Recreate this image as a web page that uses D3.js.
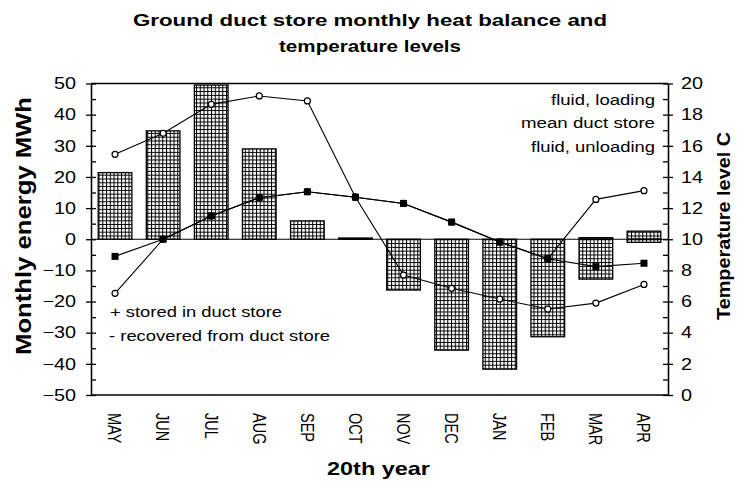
<!DOCTYPE html>
<html>
<head>
  <meta charset="utf-8">
  <script src="https://d3js.org/d3.v7.min.js"></script>
  <title>Ground duct store monthly heat balance</title>
  <style>
    body { margin: 0; background: #fff; }
    svg text { font-family: Arial, "Liberation Sans", sans-serif; fill: #000; }
    .axis path, .axis line { stroke: #000; stroke-width: 1.3px; fill: none; }
    .axis text { font-size: 16.5px; }
    .bar { fill: url(#grid); stroke: #000; stroke-width: 1.3px; }
    .series { fill: none; stroke: #000; stroke-width: 1.1px; }
  </style>
</head>
<body>
<div id="chart"></div>
<script>
// data
var months = ["MAY", "JUN", "JUL", "AUG", "SEP", "OCT", "NOV", "DEC", "JAN", "FEB", "MAR", "APR"];
var stored = [21.4, 34.8, 49.5, 29.0, 5.9, 0.4, 0, 0, 0, 0, 0.5, 2.6];          // MWh, + into store
var recovered = [0, 0, 0, 0, 0, 0, -16.3, -35.6, -41.7, -31.3, -12.8, -1.0];    // MWh, - out of store
var fluidLoading = [15.45, 16.8, 18.66, 19.2, 18.88, 12.7, 12.3, 11.1, 9.82, 8.75, 12.56, 13.12];
var meanStore = [8.9, 10.0, 11.5, 12.67, 13.05, 12.7, 12.3, 11.1, 9.82, 8.75, 8.24, 8.46];
var fluidUnloading = [6.53, 10.0, 11.5, 12.67, 13.05, 12.7, 7.7, 6.85, 6.16, 5.52, 5.9, 7.1];
var energyTicks = d3.range(-50, 51, 10);
var tempTicks = d3.range(0, 21, 2);

var W = 738, H = 481;
var margin = {top: 83.5, right: 70, bottom: 86, left: 91},
    width = W - margin.left - margin.right,
    height = H - margin.top - margin.bottom;
var sx = 1.2; // the picture is a bit wide: text is stretched sideways

var svg = d3.select("#chart").append("svg")
    .attr("width", W)
    .attr("height", H);

var pat = svg.append("defs").append("pattern")
    .attr("id", "grid")
    .attr("patternUnits", "userSpaceOnUse")
    .attr("width", 3.75)
    .attr("height", 3.8);
pat.append("rect").attr("width", 3.75).attr("height", 3.8).attr("fill", "#fff");
pat.append("path").attr("d", "M0.5,0V3.8M0,0.5H3.75")
    .attr("stroke", "#000").attr("stroke-width", 1.1);

var g = svg.append("g")
    .attr("transform", "translate(" + margin.left + "," + margin.top + ")");

var x = d3.scaleBand().domain(months).range([0, width])
    .paddingInner(0.3).paddingOuter(0.15);
var yE = d3.scaleLinear().domain([-50, 50]).range([height, 0]);
var yT = d3.scaleLinear().domain([0, 20]).range([height, 0]);
function cx(i) { return x(months[i]) + x.bandwidth() / 2; }

// text helper: font, stretch sideways, optional exact length
function txt(parent, s, px, py, o) {
  var k = o.sx || sx;
  var t = parent.append("text")
      .attr("transform", "translate(" + px + "," + py + ") scale(" + k + ",1)" + (o.rot ? " rotate(" + o.rot + ")" : ""))
      .attr("text-anchor", o.anchor || "start")
      .style("font-size", o.size + "px")
      .style("font-weight", o.bold ? "bold" : "normal")
      .text(s);
  if (o.db) t.attr("dominant-baseline", o.db);
  if (o.len) t.attr("textLength", o.len / (o.rot ? 1 : k)).attr("lengthAdjust", o.adj || "spacingAndGlyphs");
  return t;
}

// bars
var barData = [];
months.forEach(function(m, i) {
  if (stored[i] !== 0) barData.push({m: m, v0: 0, v1: stored[i]});
  if (recovered[i] !== 0) barData.push({m: m, v0: recovered[i], v1: 0});
});
g.selectAll(".bar").data(barData).enter().append("rect")
    .attr("class", "bar")
    .attr("x", function(d) { return x(d.m); })
    .attr("width", x.bandwidth())
    .attr("y", function(d) { return yE(d.v1); })
    .attr("height", function(d) { return Math.max(0.6, yE(d.v0) - yE(d.v1)); });

// zero line and frame
g.append("line").attr("x1", 0).attr("x2", width).attr("y1", yE(0)).attr("y2", yE(0))
    .attr("stroke", "#000").attr("stroke-width", 1.2);
g.append("line").attr("x1", 0).attr("x2", width).attr("y1", 0).attr("y2", 0)
    .attr("stroke", "#000").attr("stroke-width", 1.5);
g.append("line").attr("x1", 0).attr("x2", width).attr("y1", height).attr("y2", height)
    .attr("stroke", "#000").attr("stroke-width", 1.5);

// axes
function stretchLabels(ax) {
  ax.selectAll("text").attr("font-size", null).attr("font-family", null)
    .each(function() {
      d3.select(this).attr("textLength", this.getComputedTextLength() * sx)
        .attr("lengthAdjust", "spacingAndGlyphs");
    });
}
var axL = g.append("g").attr("class", "axis")
    .call(d3.axisLeft(yE).tickValues(energyTicks).tickSize(5).tickSizeOuter(0).tickPadding(10));
stretchLabels(axL);
g.append("g").attr("class", "axis")
    .call(d3.axisLeft(yE).tickValues(d3.range(-50, 51, 5)).tickSize(-5).tickSizeOuter(0).tickFormat(""));

var axR = g.append("g").attr("class", "axis").attr("transform", "translate(" + width + ",0)")
    .call(d3.axisRight(yT).tickValues(tempTicks).tickSize(5).tickSizeOuter(0).tickPadding(8));
stretchLabels(axR);
g.append("g").attr("class", "axis").attr("transform", "translate(" + width + ",0)")
    .call(d3.axisRight(yT).tickValues(d3.range(0, 21, 1)).tickSize(-5).tickSizeOuter(0).tickFormat(""));

// month labels, rotated
months.forEach(function(m, i) {
  txt(g, m, cx(i), height + 18, {size: 14.5, sx: 1.25, rot: 90, db: "central"});
});

// temperature lines
var line = d3.line().x(function(d, i) { return cx(i); }).y(function(d) { return yT(d); });
[fluidLoading, fluidUnloading, meanStore].forEach(function(s) {
  g.append("path").datum(s).attr("class", "series").attr("d", line);
});
[fluidLoading, fluidUnloading].forEach(function(s) {
  g.selectAll(null).data(s).enter().append("circle")
      .attr("cx", function(d, i) { return cx(i); })
      .attr("cy", function(d) { return yT(d); })
      .attr("r", 3)
      .attr("fill", "#fff").attr("stroke", "#000").attr("stroke-width", 1.2);
});
g.selectAll(null).data(meanStore).enter().append("rect")
    .attr("x", function(d, i) { return cx(i) - 3.5; })
    .attr("y", function(d) { return yT(d) - 3.5; })
    .attr("width", 7).attr("height", 7)
    .attr("fill", "#000");

// titles and notes
txt(svg, "Ground duct store monthly heat balance and", 370, 26, {size: 16.5, bold: true, anchor: "middle", len: 474});
txt(svg, "temperature levels", 370, 52, {size: 16.5, bold: true, anchor: "middle", len: 182});
txt(svg, "Monthly energy MWh", 23, 226, {size: 20, sx: 1.1, bold: true, anchor: "middle", rot: -90, db: "central", len: 258});
txt(svg, "Temperature level C", 724, 226, {size: 17, sx: 1.1, bold: true, anchor: "middle", rot: -90, db: "central", len: 188});
txt(svg, "20th year", 378.5, 475, {size: 17.5, bold: true, anchor: "middle", len: 103});

txt(svg, "fluid, loading", 655, 104.5, {size: 15.5, anchor: "end", len: 104});
txt(svg, "mean duct store", 655, 128, {size: 15.5, anchor: "end", len: 134});
txt(svg, "fluid, unloading", 655, 152, {size: 15.5, anchor: "end", len: 124});
txt(svg, "+ stored in duct store", 110, 316.5, {size: 15.5, len: 172});
txt(svg, "- recovered from duct store", 109, 340.5, {size: 15.5, len: 221});
</script>
</body>
</html>
